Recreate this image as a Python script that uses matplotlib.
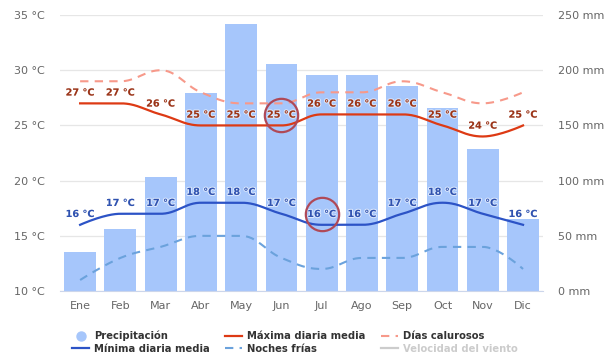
import matplotlib.pyplot as plt
import matplotlib.patheffects as pe
import matplotlib.transforms as mtransforms
import numpy as np
from matplotlib.lines import Line2D

meses = ["Ene", "Feb", "Mar", "Abr", "May", "Jun",
         "Jul", "Ago", "Sep", "Oct", "Nov", "Dic"]
precipitacion = [35, 56, 103, 179, 242, 206, 196, 196, 186, 166, 129, 65]
maxima = [27, 27, 26, 25, 25, 25, 26, 26, 26, 25, 24, 25]
minima = [16, 17, 17, 18, 18, 17, 16, 16, 17, 18, 17, 16]
dias_calurosos = [29, 29, 30, 28, 27, 27, 28, 28, 29, 28, 27, 28]
noches_frias = [11, 13, 14, 15, 15, 13, 12, 13, 13, 14, 14, 12]

# etiquetas resaltadas con un círculo: (serie, mes)
resaltados = [("max", 5), ("min", 6)]

temp_ticks = [10, 15, 20, 25, 30, 35]
mm_ticks = [0, 50, 100, 150, 200, 250]


def spline(xs, ys, n=30):
    """Curva suave al estilo Highcharts (bezier con suavizado 1.5)."""
    xs = np.asarray(xs, float)
    ys = np.asarray(ys, float)
    k = len(xs)
    s, d = 1.5, 2.5
    lc = np.zeros((k, 2))
    rc = np.zeros((k, 2))
    for i in range(k):
        if i == 0 or i == k - 1:
            lc[i] = rc[i] = (xs[i], ys[i])
            continue
        lx = (s * xs[i] + xs[i - 1]) / d
        ly = (s * ys[i] + ys[i - 1]) / d
        rx = (s * xs[i] + xs[i + 1]) / d
        ry = (s * ys[i] + ys[i + 1]) / d
        corr = (ry - ly) * (rx - xs[i]) / (rx - lx) + ys[i] - ry
        ly += corr
        ry += corr
        if ly > ys[i - 1] and ly > ys[i]:
            ly = max(ys[i - 1], ys[i]); ry = 2 * ys[i] - ly
        elif ly < ys[i - 1] and ly < ys[i]:
            ly = min(ys[i - 1], ys[i]); ry = 2 * ys[i] - ly
        if ry > ys[i + 1] and ry > ys[i]:
            ry = max(ys[i + 1], ys[i]); ly = 2 * ys[i] - ry
        elif ry < ys[i + 1] and ry < ys[i]:
            ry = min(ys[i + 1], ys[i]); ly = 2 * ys[i] - ry
        lc[i] = (lx, ly)
        rc[i] = (rx, ry)
    t = np.linspace(0, 1, n)[:, None]
    px, py = [], []
    for i in range(1, k):
        p0 = np.array([xs[i - 1], ys[i - 1]])
        p3 = np.array([xs[i], ys[i]])
        p1, p2 = rc[i - 1], lc[i]
        b = ((1 - t) ** 3) * p0 + 3 * ((1 - t) ** 2) * t * p1 \
            + 3 * (1 - t) * t ** 2 * p2 + t ** 3 * p3
        px.extend(b[:, 0]); py.extend(b[:, 1])
    return np.array(px), np.array(py)


def main():
    fig = plt.figure(figsize=(6.04, 3.58), dpi=100)
    ax_mm = fig.add_axes([0.0993, 0.187, 0.80, 0.771])
    ax_t = ax_mm.twinx()

    x = np.arange(len(meses))

    # precipitación en barras (eje derecho)
    ax_mm.bar(x, precipitacion, width=0.79, color="#a6c6fb", zorder=2)
    ax_mm.set_ylim(0, 250)
    ax_mm.set_xlim(-0.5, 11.5)
    ax_mm.set_yticks(mm_ticks)
    ax_mm.set_yticklabels([f"{v} mm" for v in mm_ticks])
    ax_mm.yaxis.set_ticks_position("right")
    ax_mm.grid(axis="y", color="#e6e6e6", linewidth=0.9, zorder=0)
    ax_mm.set_axisbelow(True)

    # temperaturas (eje izquierdo)
    ax_t.set_ylim(10, 35)
    ax_t.set_yticks(temp_ticks)
    ax_t.set_yticklabels([f"{v} °C" for v in temp_ticks])
    ax_t.yaxis.set_ticks_position("left")

    for a in (ax_mm, ax_t):
        for sp in a.spines.values():
            sp.set_visible(False)
        a.tick_params(axis="both", length=0, labelsize=8, labelcolor="#666666")
    ax_mm.spines["bottom"].set_visible(True)
    ax_mm.spines["bottom"].set_color("#ccd6eb")
    ax_mm.spines["bottom"].set_linewidth(0.8)
    ax_mm.set_xticks(x)
    ax_mm.set_xticklabels(meses)
    ax_mm.tick_params(axis="x", pad=7)
    ax_mm.tick_params(axis="y", pad=11)
    ax_t.tick_params(axis="y", pad=11)

    c_max, c_min = "#dd3a14", "#2c53c6"
    c_cal, c_fri = "#f7998a", "#6ba2dc"

    sx, sy = spline(x, dias_calurosos)
    ax_t.plot(sx, sy, color=c_cal, lw=1.5, dashes=(4, 3), zorder=3)
    sx, sy = spline(x, noches_frias)
    ax_t.plot(sx, sy, color=c_fri, lw=1.5, dashes=(4, 3), zorder=3)
    sx, sy = spline(x, maxima)
    ax_t.plot(sx, sy, color=c_max, lw=1.6, zorder=4)
    sx, sy = spline(x, minima)
    ax_t.plot(sx, sy, color=c_min, lw=1.6, zorder=4)

    # etiquetas de valor encima de cada punto
    halo = [pe.withStroke(linewidth=1.5, foreground=(1, 1, 1, 0.6))]
    series = {"max": (maxima, "#9b3418"), "min": (minima, "#2f52b0")}
    for clave, (vals, col) in series.items():
        for i, v in enumerate(vals):
            ax_t.annotate(f"{v} °C", (i, v), xytext=(0, 7.8),
                          textcoords="offset points", ha="center",
                          va="center", fontsize=7, fontweight="bold",
                          color=col, path_effects=halo, zorder=5)

    # círculos que resaltan algunas etiquetas
    for clave, i in resaltados:
        v = series[clave][0][i]
        tr = mtransforms.offset_copy(ax_t.transData, fig=fig, x=0, y=7.8,
                                     units="points")
        ax_t.plot([i], [v], marker="o", ms=24, mfc="none", mec="#b04957",
                  mew=1.6, transform=tr, zorder=6)

    # leyenda
    handles = [
        Line2D([], [], ls="none", marker="o", ms=6.5, color="#a6c6fb"),
        Line2D([], [], color=c_min, lw=1.6),
        Line2D([], [], color=c_max, lw=1.6),
        Line2D([], [], color=c_fri, lw=1.5, dashes=(4, 3)),
        Line2D([], [], color=c_cal, lw=1.5, dashes=(4, 3)),
        Line2D([], [], color="#cccccc", lw=1.6),
    ]
    etiquetas = ["Precipitación", "Mínima diaria media", "Máxima diaria media",
                 "Noches frías", "Días calurosos", "Velocidad del viento"]
    leg = fig.legend(handles, etiquetas, ncol=3, loc="upper left",
                     bbox_to_anchor=(0.1196, 0.076), frameon=False,
                     prop={"size": 7.2, "weight": "bold"}, handlelength=1.7,
                     handletextpad=0.45, columnspacing=1.6, labelspacing=0.25,
                     borderpad=0, borderaxespad=0)
    for i, t in enumerate(leg.get_texts()):
        t.set_color("#cccccc" if i == 5 else "#333333")

    fig.savefig("out.png", dpi=100)
    plt.close(fig)


if __name__ == "__main__":
    main()
